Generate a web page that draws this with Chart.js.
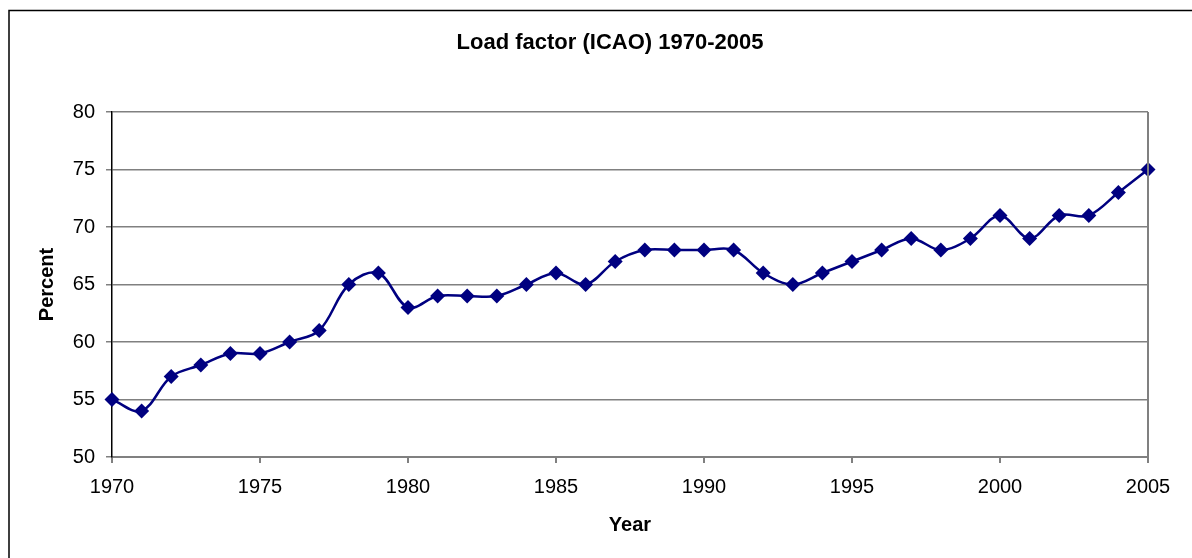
<!DOCTYPE html>
<html>
<head>
<meta charset="utf-8">
<script src="https://cdn.jsdelivr.net/npm/chart.js@4"></script>
<style>
  html, body { margin: 0; padding: 0; background: #fff; }
  #wrap { width: 1192px; height: 558px; }
</style>
</head>
<body>
<div id="wrap"><canvas id="chart" width="1192" height="558"></canvas></div>
<script>
// data
const years = [1970, 1971, 1972, 1973, 1974, 1975, 1976, 1977, 1978, 1979,
               1980, 1981, 1982, 1983, 1984, 1985, 1986, 1987, 1988, 1989,
               1990, 1991, 1992, 1993, 1994, 1995, 1996, 1997, 1998, 1999,
               2000, 2001, 2002, 2003, 2004, 2005];
const loadFactor = [55, 54, 57, 58, 59, 59, 60, 61, 65, 66,
                    63, 64, 64, 64, 65, 66, 65, 67, 68, 68,
                    68, 68, 66, 65, 66, 67, 68, 69, 68, 69,
                    71, 69, 71, 71, 73, 75];

const chartTitle = "Load factor (ICAO) 1970-2005";
const xTitle = "Year";
const yTitle = "Percent";

const FONT = "'Liberation Sans', Arial, sans-serif";

// outer frame, right edge of plot area, and the chart title
// (title is centred on the whole frame like the original, not on the canvas minus padding)
const framePlugin = {
    id: "frame",
    afterDraw(chart) {
        const ctx = chart.ctx;
        const a = chart.chartArea;
        ctx.save();
        ctx.strokeStyle = "#000";
        ctx.lineWidth = 1.5;
        ctx.beginPath();
        ctx.moveTo(9, 600);
        ctx.lineTo(9, 10.5);
        ctx.lineTo(1200, 10.5);
        ctx.stroke();

        ctx.strokeStyle = "#808080";
        ctx.lineWidth = 2;
        ctx.beginPath();
        ctx.moveTo(a.right, a.top);
        ctx.lineTo(a.right, a.bottom);
        ctx.stroke();

        ctx.fillStyle = "#000";
        ctx.font = "bold 22px " + FONT;
        ctx.textAlign = "center";
        ctx.textBaseline = "middle";
        ctx.fillText(chartTitle, 610, 43);
        ctx.restore();
    }
};

new Chart(document.getElementById("chart"), {
    type: "line",
    data: {
        datasets: [{
            label: yTitle,
            data: years.map((y, i) => ({ x: y, y: loadFactor[i] })),
            borderColor: "#000080",
            backgroundColor: "#000080",
            borderWidth: 2.5,
            tension: 0.35,
            pointStyle: "rectRot",
            pointRadius: 7.5,
            pointHoverRadius: 7.5,
            pointBorderWidth: 0,
            clip: false
        }]
    },
    plugins: [framePlugin],
    options: {
        responsive: false,
        animation: false,
        layout: { padding: { left: 9, right: 44, top: 112, bottom: 0 } },
        plugins: {
            legend: { display: false },
            tooltip: { enabled: false },
            title: { display: false }
        },
        scales: {
            x: {
                type: "linear",
                min: 1970,
                max: 2005,
                afterFit: s => { s.height = 101; },
                ticks: {
                    stepSize: 5,
                    color: "#000",
                    padding: 12,
                    maxRotation: 0,
                    font: { family: FONT, size: 20 },
                    callback: v => String(v)
                },
                grid: {
                    drawOnChartArea: false,
                    drawTicks: true,
                    tickLength: 6,
                    color: "#808080",
                    lineWidth: 2
                },
                border: { color: "#808080", width: 2 },
                title: {
                    display: true,
                    text: xTitle,
                    color: "#000",
                    font: { family: FONT, size: 20, weight: "bold" },
                    padding: { top: 0, bottom: 21 }
                }
            },
            y: {
                min: 50,
                max: 80,
                afterFit: s => { s.width = 103; },
                ticks: {
                    stepSize: 5,
                    color: "#000",
                    padding: 11,
                    font: { family: FONT, size: 20 }
                },
                grid: {
                    color: "#808080",
                    lineWidth: 1.5,
                    tickLength: 6
                },
                border: { color: "#000", width: 1.5 },
                title: {
                    display: true,
                    text: yTitle,
                    color: "#000",
                    font: { family: FONT, size: 20, weight: "bold" },
                    padding: { top: 26, bottom: 0 }
                }
            }
        }
    }
});
</script>
</body>
</html>
